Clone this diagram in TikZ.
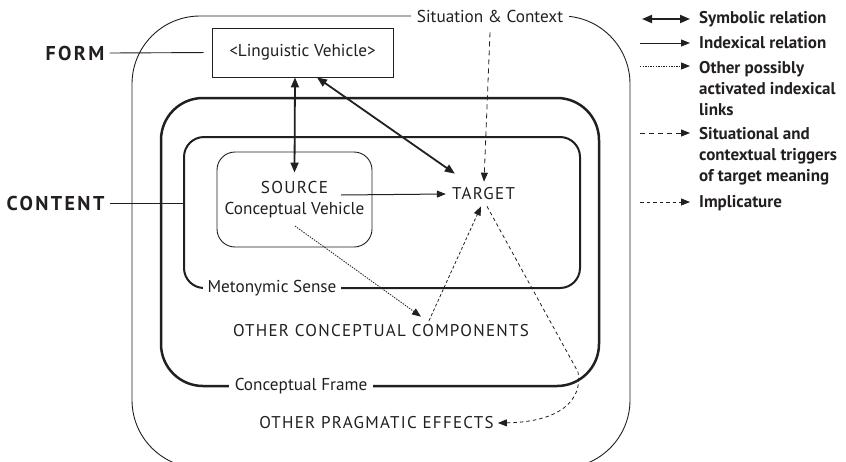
\documentclass[tikz,border=0pt]{standalone}
\usepackage{fontspec}
\setmainfont{PT Sans}
\newfontfamily\spacedfont[LetterSpace=7.5]{PT Sans}
\newfontfamily\spacedbold[LetterSpace=12]{PT Sans Bold}
\usetikzlibrary{arrows.meta,calc}
\definecolor{ink}{RGB}{35,31,32}
\begin{document}
\begin{tikzpicture}[x=1pt,y=-1pt,
  every node/.style={text=ink},
  txt/.style={font=\fontsize{17.2}{20}\selectfont, inner sep=2pt},
  caps/.style={font=\fontsize{17}{20}\selectfont\spacedfont, inner sep=5pt},
  sidelabel/.style={font=\fontsize{20}{23}\selectfont\spacedbold, inner xsep=5pt},
  framelabel/.style={txt, fill=white, inner xsep=6pt},
  legendlabel/.style={font=\fontsize{17}{21}\selectfont\bfseries, anchor=base west, inner xsep=9pt, inner ysep=0pt},
  thinframe/.style={draw=ink, line width=0.9pt, rectangle, rounded corners=68pt},
  cframe/.style={draw=ink, line width=2.5pt, rectangle, rounded corners=42pt},
  mframe/.style={draw=ink, line width=2pt, rectangle, rounded corners=20pt},
  symbolic/.style={draw=ink, line width=1.8pt, {Triangle[length=10pt,width=8pt]}-{Triangle[length=10pt,width=8pt]}},
  indexical/.style={draw=ink, line width=1pt, -{Triangle[length=9pt,width=7pt]}},
  otherlink/.style={draw=ink, line width=0.85pt, dash pattern=on 1.4pt off 1.2pt, -{Triangle[length=9pt,width=7pt]}},
  situational/.style={draw=ink, line width=0.8pt, dash pattern=on 5pt off 4pt, -{Triangle[length=9pt,width=7pt]}},
  implic/.style={draw=ink, line width=0.8pt, dash pattern=on 3.5pt off 3pt, -{Triangle[length=9pt,width=7pt]}},
  shortdash/.style={draw=ink, line width=0.8pt, dash pattern=on 3pt off 2.2pt, -{Triangle[length=9pt,width=7pt]}},
]
\clip (0,0) rectangle (846,461);
\fill[white] (0,0) rectangle (846,461);

% frames
\node[thinframe, minimum width=498pt, minimum height=452pt] (outer) at (381,242) {};
\node[cframe, minimum width=438pt, minimum height=288pt] (cframe) at (380,242) {};
\node[mframe, minimum width=396pt, minimum height=151pt] (mframe) at (382,212.5) {};

\node[framelabel] (sit) at (490,16) {Situation \& Context};
\node[framelabel] (cflabel) at (301,386) {Conceptual Frame};
\node[framelabel, inner xsep=5pt] (mlabel) at (272,288) {Metonymic Sense};

% boxes
\node[draw=ink, line width=0.9pt, minimum width=181pt, minimum height=49pt, txt] (lv) at (302.5,52.5) {<Linguistic Vehicle>};
\node[draw=ink, line width=0.9pt, rounded corners=18pt, minimum width=155pt, minimum height=95pt, align=center,
      font=\fontsize{17.2}{21}\selectfont] (src) at (294.5,199.5) {{\spacedfont SOURCE}\\Conceptual Vehicle};
\node[caps, inner sep=6pt] (target) at (483.5,194) {TARGET};
\node[caps] (occ) at (381,331) {OTHER CONCEPTUAL COMPONENTS};
\node[caps, inner xsep=4pt] (opp) at (376.5,423) {OTHER PRAGMATIC EFFECTS};

% side labels
\node[sidelabel] (form) at (75,53) {FORM};
\node[sidelabel] (content) at (55.5,203) {CONTENT};
\draw[ink, line width=0.9pt, shorten >=8pt] (form.east) -- (lv.west);
\draw[ink, line width=0.9pt] (content.east) -- (content.east -| mframe.west);

% connectors
\draw[symbolic] ([xshift=-7.5pt]lv.south) -- ([yshift=-21pt]src.north);
\draw[symbolic] ([xshift=14.5pt]lv.south) -- ([shift={(9,-8)}]target.north west);
\draw[indexical] ([shift={(46.5,-4.5)}]src.center) -- (target.west);
\draw[situational] ([xshift=0pt,yshift=-8pt]sit.south) -- ([xshift=0.5pt]target.north);
\draw[otherlink] ([shift={(0.5,26.5)}]src.center) -- ([shift={(40,-3)}]occ.north);
\draw[shortdash] ([shift={(48,1)}]occ.north) -- ([xshift=-2.5pt]target.south);
\draw[implic] ([xshift=3.5pt]target.south) -- (578,372) .. controls (583,400) and (560,422) .. (opp.east);

% legend
\node[legendlabel] (lsym) at (690,23) {Symbolic relation};
\node[legendlabel] (lind) at (690,48) {Indexical relation};
\node[legendlabel] (loth) at (690,73) {\parbox[t]{150pt}{\raggedright Other possibly\\activated indexical\\links}};
\node[legendlabel] (lsit) at (690,139) {\parbox[t]{150pt}{\raggedright Situational and\\contextual triggers\\of target meaning}};
\node[legendlabel] (limp) at (690,207) {Implicature};
\coordinate (csym) at (642,19);
\coordinate (cind) at (640,43);
\coordinate (coth) at (640,66);
\coordinate (csit) at (640,133);
\coordinate (cimp) at (640,202);
\draw[symbolic] (csym) -- (csym -| lsym.west);
\draw[indexical] (cind) -- (cind -| lind.west);
\draw[otherlink] (coth) -- (coth -| loth.west);
\draw[situational] (csit) -- (csit -| lsit.west);
\draw[implic] (cimp) -- (cimp -| limp.west);
\end{tikzpicture}
\end{document}
